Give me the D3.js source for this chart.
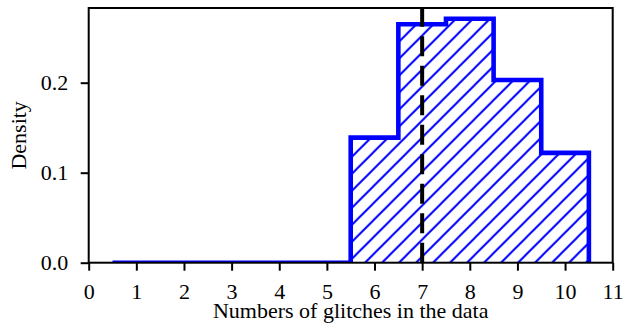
<!DOCTYPE html>
<html>
<head>
<meta charset="utf-8">
<script src="https://cdn.jsdelivr.net/npm/d3@7"></script>
<style>
  html, body { margin: 0; padding: 0; background: #fff; }
  svg { display: block; }
  text { font-family: "Liberation Serif", "Times New Roman", serif; fill: #000; }
</style>
</head>
<body>
<svg id="chart" width="624" height="332"></svg>
<script>
// Histogram of glitch counts (density per integer bin)
const glitchCounts = [1, 2, 3, 4, 5, 6, 7, 8, 9, 10];
const densities    = [0, 0, 0, 0, 0, 0.139, 0.265, 0.271, 0.203, 0.122];
const markerValue  = 7;           // dashed reference line
const xTicks = [0, 1, 2, 3, 4, 5, 6, 7, 8, 9, 10, 11];
const yTicks = [0.0, 0.1, 0.2];
const xLabel = "Numbers of glitches in the data";
const yLabel = "Density";

const svg = d3.select("#chart");
const plotLeft = 88.7, plotRight = 612.7, plotTop = 8, plotBottom = 262.7;
const fontSize = 22;

const x = d3.scaleLinear().domain([0, 11]).range([plotLeft, plotRight]);
const y = d3.scaleLinear().domain([0, 0.283]).range([plotBottom, plotTop]);

const defs = svg.append("defs");
defs.append("clipPath").attr("id", "plotClip")
  .append("rect")
  .attr("x", plotLeft).attr("y", plotTop)
  .attr("width", plotRight - plotLeft).attr("height", plotBottom - plotTop);

// diagonal "/" hatch
const hatch = defs.append("pattern")
  .attr("id", "hatch")
  .attr("patternUnits", "userSpaceOnUse")
  .attr("x", 15.7).attr("y", 0)
  .attr("width", 17).attr("height", 17);
hatch.append("path")
  .attr("d", "M-2,2 L2,-2 M0,17 L17,0 M15,19 L19,15")
  .attr("stroke", "#0000ff")
  .attr("stroke-width", 2)
  .attr("fill", "none");

// step outline points built from the bins
const binPts = [[glitchCounts[0] - 0.5, 0]];
glitchCounts.forEach((c, i) => {
  binPts.push([c - 0.5, densities[i]]);
  binPts.push([c + 0.5, densities[i]]);
});
binPts.push([glitchCounts[glitchCounts.length - 1] + 0.5, 0]);

const line = d3.line().x(d => x(d[0])).y(d => y(d[1]));

const plot = svg.append("g").attr("clip-path", "url(#plotClip)");

plot.append("path")
  .attr("d", line(binPts) + "Z")
  .attr("fill", "url(#hatch)")
  .attr("stroke", "none");

plot.append("path")
  .attr("d", line(binPts))
  .attr("fill", "none")
  .attr("stroke", "#0000ff")
  .attr("stroke-width", 4.6)
  .attr("stroke-linejoin", "miter");

// dashed vertical marker, drawn from bottom to top
plot.append("path")
  .attr("d", line([[markerValue, 0], [markerValue, 0.283]]))
  .attr("fill", "none")
  .attr("stroke", "#000")
  .attr("stroke-width", 4)
  .attr("stroke-dasharray", "20,9.5");

// axes
const xAxis = svg.append("g")
  .attr("transform", `translate(0,${plotBottom})`)
  .call(d3.axisBottom(x).tickValues(xTicks).tickSize(8).tickFormat(d3.format("d")));
xAxis.select(".domain").remove();
xAxis.selectAll(".tick line").attr("stroke", "#000").attr("stroke-width", 2);
xAxis.selectAll(".tick text")
  .attr("y", 36.3).attr("dy", null)
  .attr("font-size", fontSize)
  .attr("font-family", "Liberation Serif")
  .attr("fill", "#000");

const yAxis = svg.append("g")
  .attr("transform", `translate(${plotLeft},0)`)
  .call(d3.axisLeft(y).tickValues(yTicks).tickSize(8).tickFormat(d3.format(".1f")));
yAxis.select(".domain").remove();
yAxis.selectAll(".tick line").attr("stroke", "#000").attr("stroke-width", 2);
yAxis.selectAll(".tick text")
  .attr("x", -20.4).attr("dy", "0.33em")
  .attr("font-size", fontSize)
  .attr("font-family", "Liberation Serif")
  .attr("fill", "#000");

// frame
svg.append("rect")
  .attr("x", plotLeft).attr("y", plotTop)
  .attr("width", plotRight - plotLeft).attr("height", plotBottom - plotTop)
  .attr("fill", "none")
  .attr("stroke", "#000")
  .attr("stroke-width", 2);

// axis labels
svg.append("text")
  .attr("x", (plotLeft + plotRight) / 2).attr("y", 317.5)
  .attr("text-anchor", "middle")
  .attr("font-size", fontSize)
  .text(xLabel);

svg.append("text")
  .attr("transform", `translate(25.5,${(plotTop + plotBottom) / 2}) rotate(-90)`)
  .attr("text-anchor", "middle")
  .attr("font-size", fontSize)
  .text(yLabel);
</script>
</body>
</html>
